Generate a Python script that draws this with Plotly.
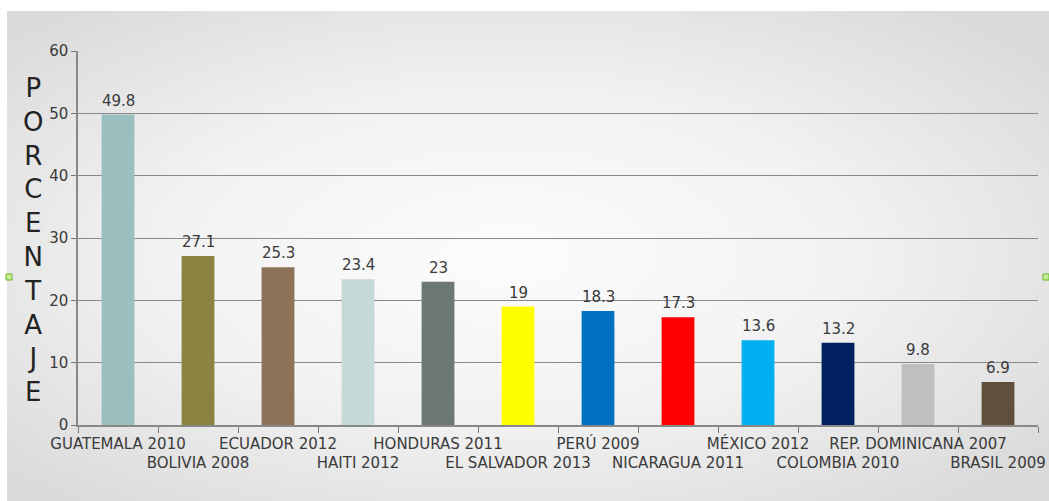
import base64
import plotly.graph_objects as go

# Porcentaje por país y año de encuesta
paises = [
    "GUATEMALA 2010", "BOLIVIA 2008", "ECUADOR 2012", "HAITI 2012",
    "HONDURAS 2011", "EL SALVADOR 2013", "PERÚ 2009", "NICARAGUA 2011",
    "MÉXICO 2012", "COLOMBIA 2010", "REP. DOMINICANA 2007", "BRASIL 2009",
]
porcentajes = [49.8, 27.1, 25.3, 23.4, 23, 19, 18.3, 17.3, 13.6, 13.2, 9.8, 6.9]
colores = [
    "#9bbfbf", "#8a8440", "#8c7358", "#c6dad8", "#6b7972", "#ffff00",
    "#0070c0", "#ff0000", "#00b0f0", "#002060", "#bfbfbf", "#5f4f3b",
]
y_ticks = [0, 10, 20, 30, 40, 50, 60]

# Alternate the category labels between two rows so they do not collide
etiquetas = [p if i % 2 == 0 else "<br>" + p for i, p in enumerate(paises)]

TXT = "#3a3a3a"
FONT = "DejaVu Sans"
FS = 15

# Soft radial backdrop for the chart panel
svg = (
    '<svg xmlns="http://www.w3.org/2000/svg" width="1042" height="490">'
    '<defs><radialGradient id="g" cx="0.48" cy="0.5" r="0.66">'
    '<stop offset="0" stop-color="#fcfcfc"/>'
    '<stop offset="0.5" stop-color="#f2f2f2"/>'
    '<stop offset="1" stop-color="#dadada"/>'
    '</radialGradient></defs>'
    '<rect width="1042" height="490" fill="url(#g)"/></svg>'
)
fondo = "data:image/svg+xml;base64," + base64.b64encode(svg.encode()).decode()

W, H = 1049, 501
L, R, T, B = 78, 11, 51, 76
pw, ph = W - L - R, H - T - B


def px_x(x):
    return (x - L) / pw


def px_y(y):
    return (H - B - y) / ph


fig = go.Figure(
    go.Bar(
        x=paises,
        y=porcentajes,
        marker=dict(color=colores, line=dict(width=0)),
        width=0.41,
        hoverinfo="x+y",
    )
)

# Value labels sitting just above each bar
valores = [
    dict(
        x=p, y=v, xref="x", yref="y",
        text=f"{v:g}",
        showarrow=False,
        xanchor="center", yanchor="bottom",
        yshift=3,
        font=dict(family=FONT, size=FS, color=TXT),
    )
    for p, v in zip(paises, porcentajes)
]

# Vertical, letter-by-letter axis title
titulo = dict(
    text="<br>".join("PORCENTAJE"),
    xref="paper", yref="paper",
    x=px_x(33), y=px_y(240),
    xanchor="center", yanchor="middle",
    showarrow=False,
    align="center",
    font=dict(family=FONT, size=26, color="#222"),
)

fig.update_layout(
    width=W,
    height=H,
    margin=dict(l=L, r=R, t=T, b=B, autoexpand=False),
    paper_bgcolor="white",
    plot_bgcolor="rgba(0,0,0,0)",
    showlegend=False,
    font=dict(family=FONT, color=TXT),
    images=[
        dict(
            source=fondo,
            xref="paper", yref="paper",
            x=px_x(7), y=px_y(11),
            sizex=px_x(W) - px_x(7), sizey=px_y(11) - px_y(H),
            xanchor="left", yanchor="top",
            sizing="stretch", layer="below",
        )
    ],
    xaxis=dict(
        tickmode="array",
        tickvals=paises,
        ticktext=etiquetas,
        tickangle=0,
        tickson="boundaries",
        ticks="outside",
        ticklen=6,
        ticklabelstandoff=4,
        tickcolor="#777",
        showline=True,
        linecolor="#888",
        linewidth=1.5,
        showgrid=False,
        automargin=False,
        tickfont=dict(family=FONT, size=FS, color=TXT),
        fixedrange=True,
    ),
    yaxis=dict(
        range=[0, 60],
        tickvals=y_ticks,
        ticks="outside",
        ticklen=5,
        tickcolor="#777",
        showline=True,
        linecolor="#888",
        linewidth=1.5,
        showgrid=True,
        gridcolor="#888888",
        gridwidth=1.3,
        zeroline=False,
        automargin=False,
        tickfont=dict(family=FONT, size=FS, color=TXT),
        fixedrange=True,
    ),
    annotations=valores + [titulo],
    shapes=[
        dict(
            type="rect", xref="paper", yref="paper",
            x0=px_x(x0), x1=px_x(x0 + 6), y0=px_y(280), y1=px_y(274),
            line=dict(color="#66bb22", width=1), fillcolor="#c8ee99",
        )
        for x0 in (6, 1043)
    ],
)

fig.write_html("out.html")
